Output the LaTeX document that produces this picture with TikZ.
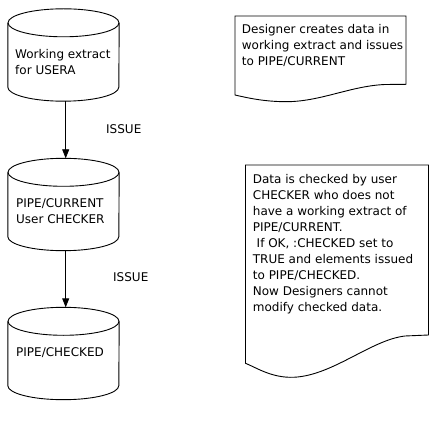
\documentclass[tikz,border=0pt]{standalone}
\usepackage{fontspec}
\setmainfont{DejaVu Sans}
\usetikzlibrary{arrows.meta}
\newcommand\cylout[1]{%
  \draw[outline] ([yshift=-14pt]#1.north) ellipse[x radius=55.5pt, y radius=14pt];
  \draw[outline] ([yshift=-14pt]#1.north west) -- ([yshift=14pt]#1.south west)
     arc[start angle=180, end angle=360, x radius=55.5pt, y radius=14pt]
     -- ([yshift=-14pt]#1.north east);}
\begin{document}
\begin{tikzpicture}[x=1pt,y=-1pt,
  outline/.style={line width=0.9pt, black},
  txt/.style={font=\fontsize{12}{16}\selectfont, inner sep=0pt, align=left, anchor=base west},
  cylbox/.style={minimum width=111pt, minimum height=92pt, inner sep=0pt},
  arr/.style={line width=0.9pt, -{Triangle[width=7pt,length=9pt]}}]
\useasboundingbox (0,0) rectangle (436,430);
\fill[white] (0,0) rectangle (436,430);

% cylinders
\node[cylbox] (c1) at (63.5,55) {};
\node[cylbox] (c2) at (63.5,204.5) {};
\node[cylbox] (c3) at (63.5,353.5) {};
\cylout{c1}
\cylout{c2}
\cylout{c3}
% (base anchor of a multi-line node = baseline of its last line)
\node[txt] (t1) at (15,74.3) {Working extract\\for USERA};
\node[txt] (t2) at (16,223.5) {PIPE/CURRENT\\User CHECKER};
\node[txt] (t3) at (16,356.7) {PIPE/CHECKED};

% arrows
\draw[arr] ([xshift=2.2pt]c1.south) -- ([xshift=2.2pt]c2.north);
\draw[arr] ([xshift=2.2pt]c2.south) -- ([xshift=2.2pt]c3.north);
\node[txt] (i1) at (106,134) {ISSUE};
\node[txt] (i2) at (113,281) {ISSUE};

% note 1
\draw[outline] (235,16) -- (406,16) -- (406,84.3) -- (385,84.5)
  .. controls (350,86) and (320,102) .. (285,101.7)
  .. controls (265,101.5) and (250,98.5) .. (235,95) -- cycle;
\node[txt] (n1) at (241.7,65.3) {Designer creates data in\\working extract and issues\\to PIPE/CURRENT};

% note 2
\draw[outline] (245.5,165) -- (428.5,165) -- (428.5,335) -- (405,336)
  .. controls (370,340) and (330,378) .. (290,377.3)
  .. controls (270,377) and (255,367) .. (245.5,363.3) -- cycle;
\node[txt] (n2) at (252.7,311.3) {Data is checked by user\\CHECKER who does not\\have a working extract of\\PIPE/CURRENT.\\\ If OK, :CHECKED set to\\TRUE and elements issued\\to PIPE/CHECKED.\\Now Designers cannot\\modify checked data.};
\end{tikzpicture}
\end{document}
